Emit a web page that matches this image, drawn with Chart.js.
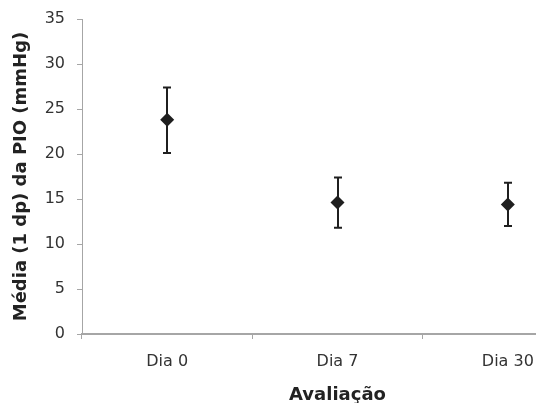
<!DOCTYPE html>
<html>
<head>
<meta charset="utf-8">
<script src="https://cdn.jsdelivr.net/npm/chart.js@4"></script>
<style>
  html, body { margin: 0; padding: 0; background: #fff; overflow: hidden; }
  #wrap { width: 536px; height: 403px; overflow: hidden; position: relative; }
  #wrap canvas { position: absolute; left: 0; top: 0; }
</style>
</head>
<body>
<div id="wrap"><canvas id="c" width="600" height="403"></canvas></div>
<script>
// data
const categories = ['Dia 0', 'Dia 7', 'Dia 30'];
const means = [23.8, 14.6, 14.4];
const upper = [27.4, 17.4, 16.8];
const lower = [20.1, 11.8, 12.0];
const yTicks = [0, 5, 10, 15, 20, 25, 30, 35];

const FONT = "'DejaVu Sans', Verdana, sans-serif";
const AXIS = '#a6a6a6';
const INK = '#1f1f1f';

// error bars drawn through the y scale
const errorBars = {
  id: 'errorBars',
  beforeDatasetsDraw(chart) {
    const { ctx, scales: { x, y } } = chart;
    ctx.save();
    ctx.strokeStyle = INK;
    ctx.lineWidth = 2;
    categories.forEach((c, i) => {
      const px = Math.round(x.getPixelForValue(i));
      const top = y.getPixelForValue(upper[i]);
      const bot = y.getPixelForValue(lower[i]);
      ctx.beginPath();
      ctx.moveTo(px, top); ctx.lineTo(px, bot);
      ctx.moveTo(px - 4, top); ctx.lineTo(px + 4, top);
      ctx.moveTo(px - 4, bot); ctx.lineTo(px + 4, bot);
      ctx.stroke();
    });
    ctx.restore();
  }
};

new Chart(document.getElementById('c').getContext('2d'), {
  type: 'line',
  data: {
    labels: categories,
    datasets: [{
      data: means,
      showLine: false,
      pointStyle: 'rectRot',
      pointRadius: 7,
      backgroundColor: INK,
      borderColor: INK,
      borderWidth: 0,
    }],
  },
  options: {
    responsive: false,
    animation: false,
    events: [],
    layout: { padding: { top: 19, left: 0, right: 0, bottom: 0 } },
    plugins: { legend: { display: false }, tooltip: { enabled: false } },
    scales: {
      x: {
        offset: true,
        grid: { offset: true, drawOnChartArea: false, drawTicks: true, tickLength: 5, color: AXIS },
        border: { color: AXIS, width: 2 },
        ticks: { color: '#333', font: { family: FONT, size: 16 }, padding: 13 },
        title: { display: true, text: 'Avaliação', color: '#222', font: { family: FONT, size: 18, weight: 'bold' }, padding: { top: 0, bottom: -3 } },
        afterFit: s => { s.height = 69; },
      },
      y: {
        min: 0, max: 35,
        afterBuildTicks: s => { s.ticks = yTicks.map(v => ({ value: v })); },
        grid: { drawOnChartArea: false, drawTicks: true, tickLength: 5, color: AXIS },
        border: { color: AXIS, width: 1 },
        ticks: { color: '#333', font: { family: FONT, size: 16 }, padding: 12 },
        title: { display: true, text: 'Média (1 dp) da PIO (mmHg)', color: '#222', font: { family: FONT, size: 18, weight: 'bold' }, padding: { top: 11 } },
        afterFit: s => { s.width = 82; s.paddingTop = 0; s.paddingBottom = 0; },
      },
    },
  },
  plugins: [errorBars],
});
</script>
</body>
</html>
